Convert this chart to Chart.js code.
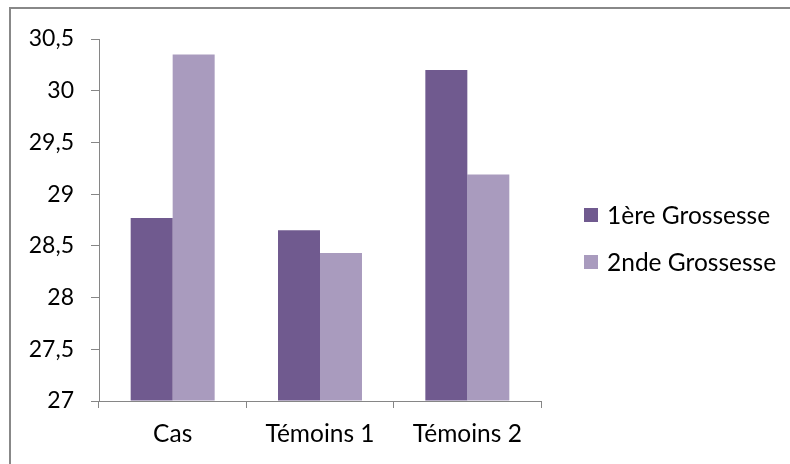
<!DOCTYPE html>
<html>
<head>
<meta charset="utf-8">
<script src="https://cdn.jsdelivr.net/npm/chart.js@4/dist/chart.umd.min.js"></script>
<style>
  html, body { margin: 0; padding: 0; background: #ffffff; }
  #wrap { position: relative; width: 790px; height: 464px; overflow: hidden; }
  #frame {
    position: absolute; left: 9px; top: 7px; width: 900px; height: 600px;
    border-left: 2px solid #888888; border-top: 2px solid #888888;
  }
  canvas { position: absolute; left: 0; top: 0; }
</style>
</head>
<body>
<div id="wrap">
  <div id="frame"></div>
  <canvas id="chart" width="790" height="464"></canvas>
</div>
<script>
// Groupes et valeurs moyennes par grossesse
const categories = ['Cas', 'Témoins 1', 'Témoins 2'];
const seriesNames = ['1ère Grossesse', '2nde Grossesse'];
const premiere = [28.77, 28.65, 30.2];
const seconde = [30.35, 28.43, 29.19];
const yTicks = [27, 27.5, 28, 28.5, 29, 29.5, 30, 30.5];

const couleurs = ['#705A8F', '#A99BBE'];
const axisColor = '#868686';
const fontFamily = 'Lato, sans-serif';
const fontSize = 24.5;
const yFontSize = 23;

// Légende dessinée à droite du graphique
const legendePlugin = {
    id: 'legendeDroite',
    afterDraw(chart) {
        const ctx = chart.ctx;
        ctx.save();
        ctx.font = fontSize + 'px ' + fontFamily;
        ctx.textBaseline = 'middle';
        ctx.textAlign = 'left';
        chart.data.datasets.forEach((ds, i) => {
            const y = 215 + i * 47;
            ctx.fillStyle = ds.backgroundColor;
            ctx.fillRect(584, y - 7, 14, 14);
            ctx.fillStyle = '#000000';
            ctx.fillText(ds.label, 607, y + 1);
        });
        ctx.restore();
    }
};

new Chart(document.getElementById('chart'), {
    type: 'bar',
    data: {
        labels: categories,
        datasets: [{
            label: seriesNames[0],
            data: premiere,
            backgroundColor: couleurs[0]
        }, {
            label: seriesNames[1],
            data: seconde,
            backgroundColor: couleurs[1]
        }]
    },
    options: {
        responsive: false,
        animation: false,
        layout: {
            padding: { left: 0, right: 249, top: 39, bottom: 0 }
        },
        datasets: {
            bar: {
                categoryPercentage: 0.57,
                barPercentage: 1.0,
                base: 27
            }
        },
        plugins: {
            legend: { display: false },
            tooltip: { enabled: false }
        },
        scales: {
            x: {
                offset: true,
                grid: {
                    offset: true,
                    drawOnChartArea: false,
                    drawTicks: true,
                    tickLength: 7,
                    color: axisColor
                },
                border: { display: true, color: axisColor, width: 1 },
                ticks: {
                    color: '#000000',
                    padding: 11,
                    font: { family: fontFamily, size: fontSize }
                },
                afterFit(scale) { scale.height = 63; }
            },
            y: {
                min: 27,
                max: 30.5,
                afterBuildTicks(scale) {
                    scale.ticks = yTicks.map(v => ({ value: v }));
                },
                grid: {
                    drawOnChartArea: false,
                    drawTicks: true,
                    tickLength: 8,
                    color: axisColor
                },
                border: { display: true, color: axisColor, width: 1 },
                ticks: {
                    color: '#000000',
                    padding: 17,
                    font: { family: fontFamily, size: yFontSize },
                    callback: v => String(v).replace('.', ',')
                },
                afterFit(scale) { scale.width = 99; }
            }
        }
    },
    plugins: [legendePlugin]
});
</script>
</body>
</html>
